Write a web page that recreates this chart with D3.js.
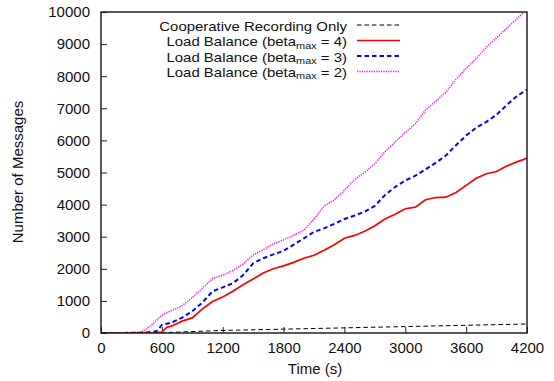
<!DOCTYPE html>
<html>
<head>
<meta charset="utf-8">
<script src="https://cdn.jsdelivr.net/npm/d3@7"></script>
<style>
  body { margin: 0; background: #fff; }
  svg text { font-family: "Liberation Sans", Arial, sans-serif; }
</style>
</head>
<body>
<svg id="chart" width="554" height="381"></svg>
<script>
// Time samples (s) shared by the load-balance series
const times = [0,100,200,300,400,500,550,600,650,700,800,900,1000,1100,1200,1300,1400,1500,1600,1700,1800,1900,2000,2100,2200,2300,2400,2500,2600,2700,2800,2900,3000,3100,3200,3300,3400,3500,3600,3700,3800,3900,4000,4100,4170,4200];

const beta2 = [0,0,5,10,30,250,400,560,640,700,850,1100,1400,1700,1800,1950,2150,2430,2600,2780,2900,3050,3200,3550,3950,4150,4450,4780,5000,5280,5650,5950,6250,6520,6950,7220,7500,7900,8250,8560,8900,9200,9500,9780,10000,10100];
const beta3 = [0,0,2,5,10,30,60,250,290,330,480,680,950,1300,1420,1550,1800,2170,2330,2450,2560,2750,2950,3150,3260,3400,3550,3660,3780,3960,4300,4550,4750,4900,5100,5300,5530,5850,6150,6400,6580,6800,7100,7380,7520,7580];
const beta4 = [0,0,0,2,3,5,10,30,180,220,370,470,750,980,1120,1300,1500,1680,1870,2000,2090,2200,2330,2420,2580,2750,2950,3040,3170,3340,3550,3700,3870,3920,4150,4220,4230,4380,4600,4820,4960,5030,5200,5330,5410,5450];

const coopTimes = [0,500,600,1200,1800,2400,3000,3600,4200];
const coopOnly  = [0,0,10,80,120,160,200,240,280];

const xTicks = [0,600,1200,1800,2400,3000,3600,4200];
const yTicks = [0,1000,2000,3000,4000,5000,6000,7000,8000,9000,10000];

const legendLabels = [
  {pre: "Cooperative Recording Only", sub: "", post: ""},
  {pre: "Load Balance (beta", sub: "max", post: " = 4)"},
  {pre: "Load Balance (beta", sub: "max", post: " = 3)"},
  {pre: "Load Balance (beta", sub: "max", post: " = 2)"}
];

const FONT = 15;
const svg = d3.select("#chart");
const m = {left: 101, right: 527, top: 12, bottom: 333};

const x = d3.scaleLinear().domain([0, 4200]).range([m.left, m.right]);
const y = d3.scaleLinear().domain([0, 10000]).range([m.bottom, m.top]);

svg.append("defs").append("clipPath").attr("id", "plotClip")
  .append("rect").attr("x", m.left).attr("y", m.top)
  .attr("width", m.right - m.left).attr("height", m.bottom - m.top);

// Axes with inward ticks
const fmt = d3.format("d");
const xAxis = svg.append("g").attr("transform", `translate(0,${m.bottom})`)
  .call(d3.axisBottom(x).tickValues(xTicks).tickFormat(fmt)
    .tickSizeInner(-6).tickSizeOuter(0).tickPadding(9));
const yAxis = svg.append("g").attr("transform", `translate(${m.left},0)`)
  .call(d3.axisLeft(y).tickValues(yTicks).tickFormat(fmt)
    .tickSizeInner(-6).tickSizeOuter(0).tickPadding(11));
[xAxis, yAxis].forEach(g => {
  g.select(".domain").remove();
  g.selectAll(".tick line").attr("stroke", "#222").attr("stroke-width", 1);
  g.selectAll(".tick text").attr("font-size", FONT).attr("fill", "#111")
    .style("font-family", "'Liberation Sans', Arial, sans-serif");
});

// Series
const series = [
  {t: coopTimes, v: coopOnly, color: "#000", width: 1, dash: "4.5,3"},
  {t: times, v: beta4, color: "#f00", width: 1.7, dash: null},
  {t: times, v: beta3, color: "#00f", width: 2, dash: "4.5,3"},
  {t: times, v: beta2, color: "#f0f", width: 1.5, dash: "1.2,1.2"}
];

const line = d3.line().x(d => x(d[0])).y(d => y(d[1]));
const plot = svg.append("g").attr("clip-path", "url(#plotClip)");
series.slice().reverse().forEach(s => {
  plot.append("path")
    .datum(s.t.map((t, i) => [t, s.v[i]]))
    .attr("d", line)
    .attr("fill", "none")
    .attr("stroke", s.color)
    .attr("stroke-width", s.width)
    .attr("stroke-dasharray", s.dash);
});

// Frame
svg.append("rect").attr("x", m.left).attr("y", m.top)
  .attr("width", m.right - m.left).attr("height", m.bottom - m.top)
  .attr("fill", "none").attr("stroke", "#222").attr("stroke-width", 1.5);

// Axis titles
svg.append("text").attr("x", 315).attr("y", 374).attr("text-anchor", "middle")
  .attr("font-size", FONT).attr("fill", "#111").text("Time (s)");
svg.append("text").attr("transform", "translate(23,172) rotate(-90)")
  .attr("text-anchor", "middle").attr("font-size", FONT).attr("fill", "#111")
  .text("Number of Messages");

// Legend: compact rows, text widened horizontally to keep the key's width
const legend = svg.append("g");
legendLabels.forEach((lab, i) => {
  const ly = 25 + i * 15.5;
  const row = legend.append("g")
    .attr("transform", `translate(347,${31 + i * 15.3}) scale(1.15,1)`);
  const txt = row.append("text").attr("x", 0).attr("y", 0)
    .attr("text-anchor", "end").attr("font-size", 13).attr("fill", "#111");
  txt.append("tspan").text(lab.pre);
  if (lab.sub) {
    txt.append("tspan").attr("font-size", 9.5).attr("dy", 2.5).text(lab.sub);
    txt.append("tspan").attr("dy", -2.5).text(lab.post);
  }
  const s = series[i];
  legend.append("line").attr("x1", 357).attr("x2", 400).attr("y1", ly).attr("y2", ly)
    .attr("stroke", s.color).attr("stroke-width", s.width).attr("stroke-dasharray", s.dash);
});
</script>
</body>
</html>
